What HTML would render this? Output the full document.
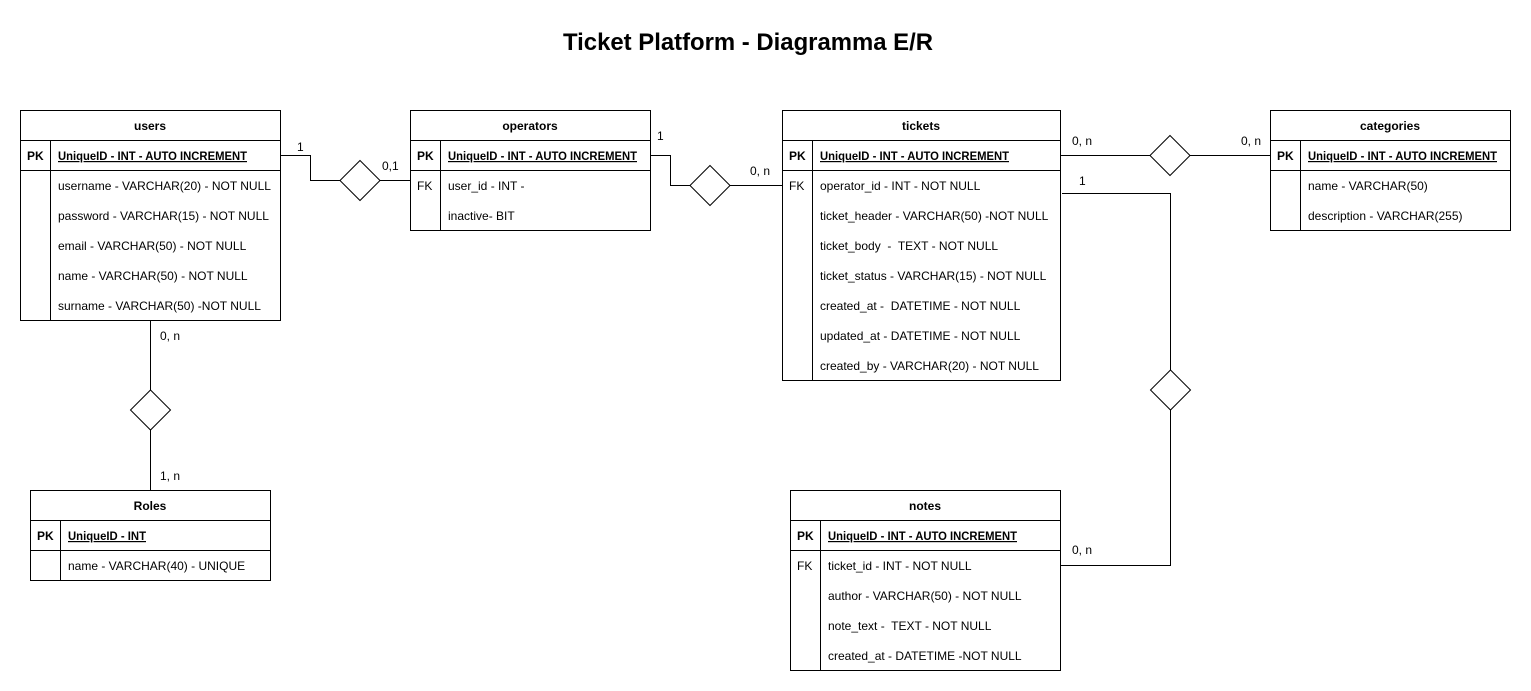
<!DOCTYPE html>
<html><head><meta charset="utf-8"><style>
html,body{margin:0;padding:0;background:#fff;}
svg{display:block;}
text{font-family:"Liberation Sans",Arial,sans-serif;font-size:12px;fill:#000;}
.b{font-weight:bold;}
</style></head><body>
<svg width="1531" height="691" viewBox="0 0 1531 691" xmlns="http://www.w3.org/2000/svg">
<rect width="1531" height="691" fill="#fff"/>
<text x="563" y="50" class="b" style="font-size:24px" textLength="370" lengthAdjust="spacingAndGlyphs">Ticket Platform - Diagramma E/R</text>

<g fill="none" stroke="#000" stroke-width="1">
<rect x="20.5" y="110.5" width="260" height="210"/>
<line x1="20" y1="140.5" x2="280" y2="140.5"/><line x1="20" y1="170.5" x2="280" y2="170.5"/>
<line x1="50.5" y1="140" x2="50.5" y2="320"/>
<rect x="410.5" y="110.5" width="240" height="120"/>
<line x1="410" y1="140.5" x2="650" y2="140.5"/><line x1="410" y1="170.5" x2="650" y2="170.5"/>
<line x1="440.5" y1="140" x2="440.5" y2="230"/>
<rect x="782.5" y="110.5" width="278" height="270"/>
<line x1="782" y1="140.5" x2="1060" y2="140.5"/><line x1="782" y1="170.5" x2="1060" y2="170.5"/>
<line x1="812.5" y1="140" x2="812.5" y2="380"/>
<rect x="1270.5" y="110.5" width="240" height="120"/>
<line x1="1270" y1="140.5" x2="1510" y2="140.5"/><line x1="1270" y1="170.5" x2="1510" y2="170.5"/>
<line x1="1300.5" y1="140" x2="1300.5" y2="230"/>
<rect x="30.5" y="490.5" width="240" height="90"/>
<line x1="30" y1="520.5" x2="270" y2="520.5"/><line x1="30" y1="550.5" x2="270" y2="550.5"/>
<line x1="60.5" y1="520" x2="60.5" y2="580"/>
<rect x="790.5" y="490.5" width="270" height="180"/>
<line x1="790" y1="520.5" x2="1060" y2="520.5"/><line x1="790" y1="550.5" x2="1060" y2="550.5"/>
<line x1="820.5" y1="520" x2="820.5" y2="670"/>

<polyline points="280,155.5 310.5,155.5 310.5,180.5 340,180.5"/>
<polygon points="360,160.5 380,180.5 360,200.5 340,180.5"/>
<line x1="380" y1="180.5" x2="410" y2="180.5"/>
<polyline points="650,155.5 670.5,155.5 670.5,185.5 690,185.5"/>
<polygon points="710,165.5 730,185.5 710,205.5 690,185.5"/>
<line x1="730" y1="185.5" x2="782" y2="185.5"/>
<line x1="1060" y1="155.5" x2="1150" y2="155.5"/>
<polygon points="1170,135.5 1190,155.5 1170,175.5 1150,155.5"/>
<line x1="1190" y1="155.5" x2="1270" y2="155.5"/>
<polyline points="1062,193.5 1170.5,193.5 1170.5,370"/>
<polygon points="1170.5,370 1190.5,390 1170.5,410 1150.5,390"/>
<polyline points="1170.5,410 1170.5,565.5 1060,565.5"/>
<line x1="150.5" y1="320" x2="150.5" y2="390"/>
<polygon points="150.5,390 170.5,410 150.5,430 130.5,410"/>
<line x1="150.5" y1="430" x2="150.5" y2="490"/>
</g>

<text x="150" y="130" text-anchor="middle" class="b">users</text>
<text x="27" y="160" class="b">PK</text>
<text x="58" y="160" class="b" text-decoration="underline" textLength="189" lengthAdjust="spacingAndGlyphs">UniqueID - INT - AUTO INCREMENT</text>
<text x="58" y="190">username - VARCHAR(20) - NOT NULL</text>
<text x="58" y="220">password - VARCHAR(15) - NOT NULL</text>
<text x="58" y="250">email - VARCHAR(50) - NOT NULL</text>
<text x="58" y="280">name - VARCHAR(50) - NOT NULL</text>
<text x="58" y="310">surname - VARCHAR(50) -NOT NULL</text>

<text x="530" y="130" text-anchor="middle" class="b">operators</text>
<text x="417" y="160" class="b">PK</text>
<text x="448" y="160" class="b" text-decoration="underline" textLength="189" lengthAdjust="spacingAndGlyphs">UniqueID - INT - AUTO INCREMENT</text>
<text x="417" y="190">FK</text>
<text x="448" y="190">user_id - INT -</text>
<text x="448" y="220">inactive- BIT</text>

<text x="921" y="130" text-anchor="middle" class="b">tickets</text>
<text x="789" y="160" class="b">PK</text>
<text x="820" y="160" class="b" text-decoration="underline" textLength="189" lengthAdjust="spacingAndGlyphs">UniqueID - INT - AUTO INCREMENT</text>
<text x="789" y="190">FK</text>
<text x="820" y="190">operator_id - INT - NOT NULL</text>
<text x="820" y="220">ticket_header - VARCHAR(50) -NOT NULL</text>
<text x="820" y="250" xml:space="preserve">ticket_body  -  TEXT - NOT NULL</text>
<text x="820" y="280">ticket_status - VARCHAR(15) - NOT NULL</text>
<text x="820" y="310" xml:space="preserve">created_at -  DATETIME - NOT NULL</text>
<text x="820" y="340">updated_at - DATETIME - NOT NULL</text>
<text x="820" y="370">created_by - VARCHAR(20) - NOT NULL</text>

<text x="1390" y="130" text-anchor="middle" class="b">categories</text>
<text x="1277" y="160" class="b">PK</text>
<text x="1308" y="160" class="b" text-decoration="underline" textLength="189" lengthAdjust="spacingAndGlyphs">UniqueID - INT - AUTO INCREMENT</text>
<text x="1308" y="190">name - VARCHAR(50)</text>
<text x="1308" y="220">description - VARCHAR(255)</text>

<text x="150" y="510" text-anchor="middle" class="b">Roles</text>
<text x="37" y="540" class="b">PK</text>
<text x="68" y="540" class="b" text-decoration="underline" textLength="78" lengthAdjust="spacingAndGlyphs">UniqueID - INT</text>
<text x="68" y="570">name - VARCHAR(40) - UNIQUE</text>

<text x="925" y="510" text-anchor="middle" class="b">notes</text>
<text x="797" y="540" class="b">PK</text>
<text x="828" y="540" class="b" text-decoration="underline" textLength="189" lengthAdjust="spacingAndGlyphs">UniqueID - INT - AUTO INCREMENT</text>
<text x="797" y="570">FK</text>
<text x="828" y="570">ticket_id - INT - NOT NULL</text>
<text x="828" y="600">author - VARCHAR(50) - NOT NULL</text>
<text x="828" y="630" xml:space="preserve">note_text -  TEXT - NOT NULL</text>
<text x="828" y="660">created_at - DATETIME -NOT NULL</text>

<text x="297" y="151">1</text>
<text x="382" y="170">0,1</text>
<text x="657" y="140">1</text>
<text x="750" y="175">0, n</text>
<text x="1072" y="145">0, n</text>
<text x="1241" y="145">0, n</text>
<text x="1079" y="185">1</text>
<text x="1072" y="554">0, n</text>
<text x="160" y="340">0, n</text>
<text x="160" y="480">1, n</text>
</svg>
</body></html>
